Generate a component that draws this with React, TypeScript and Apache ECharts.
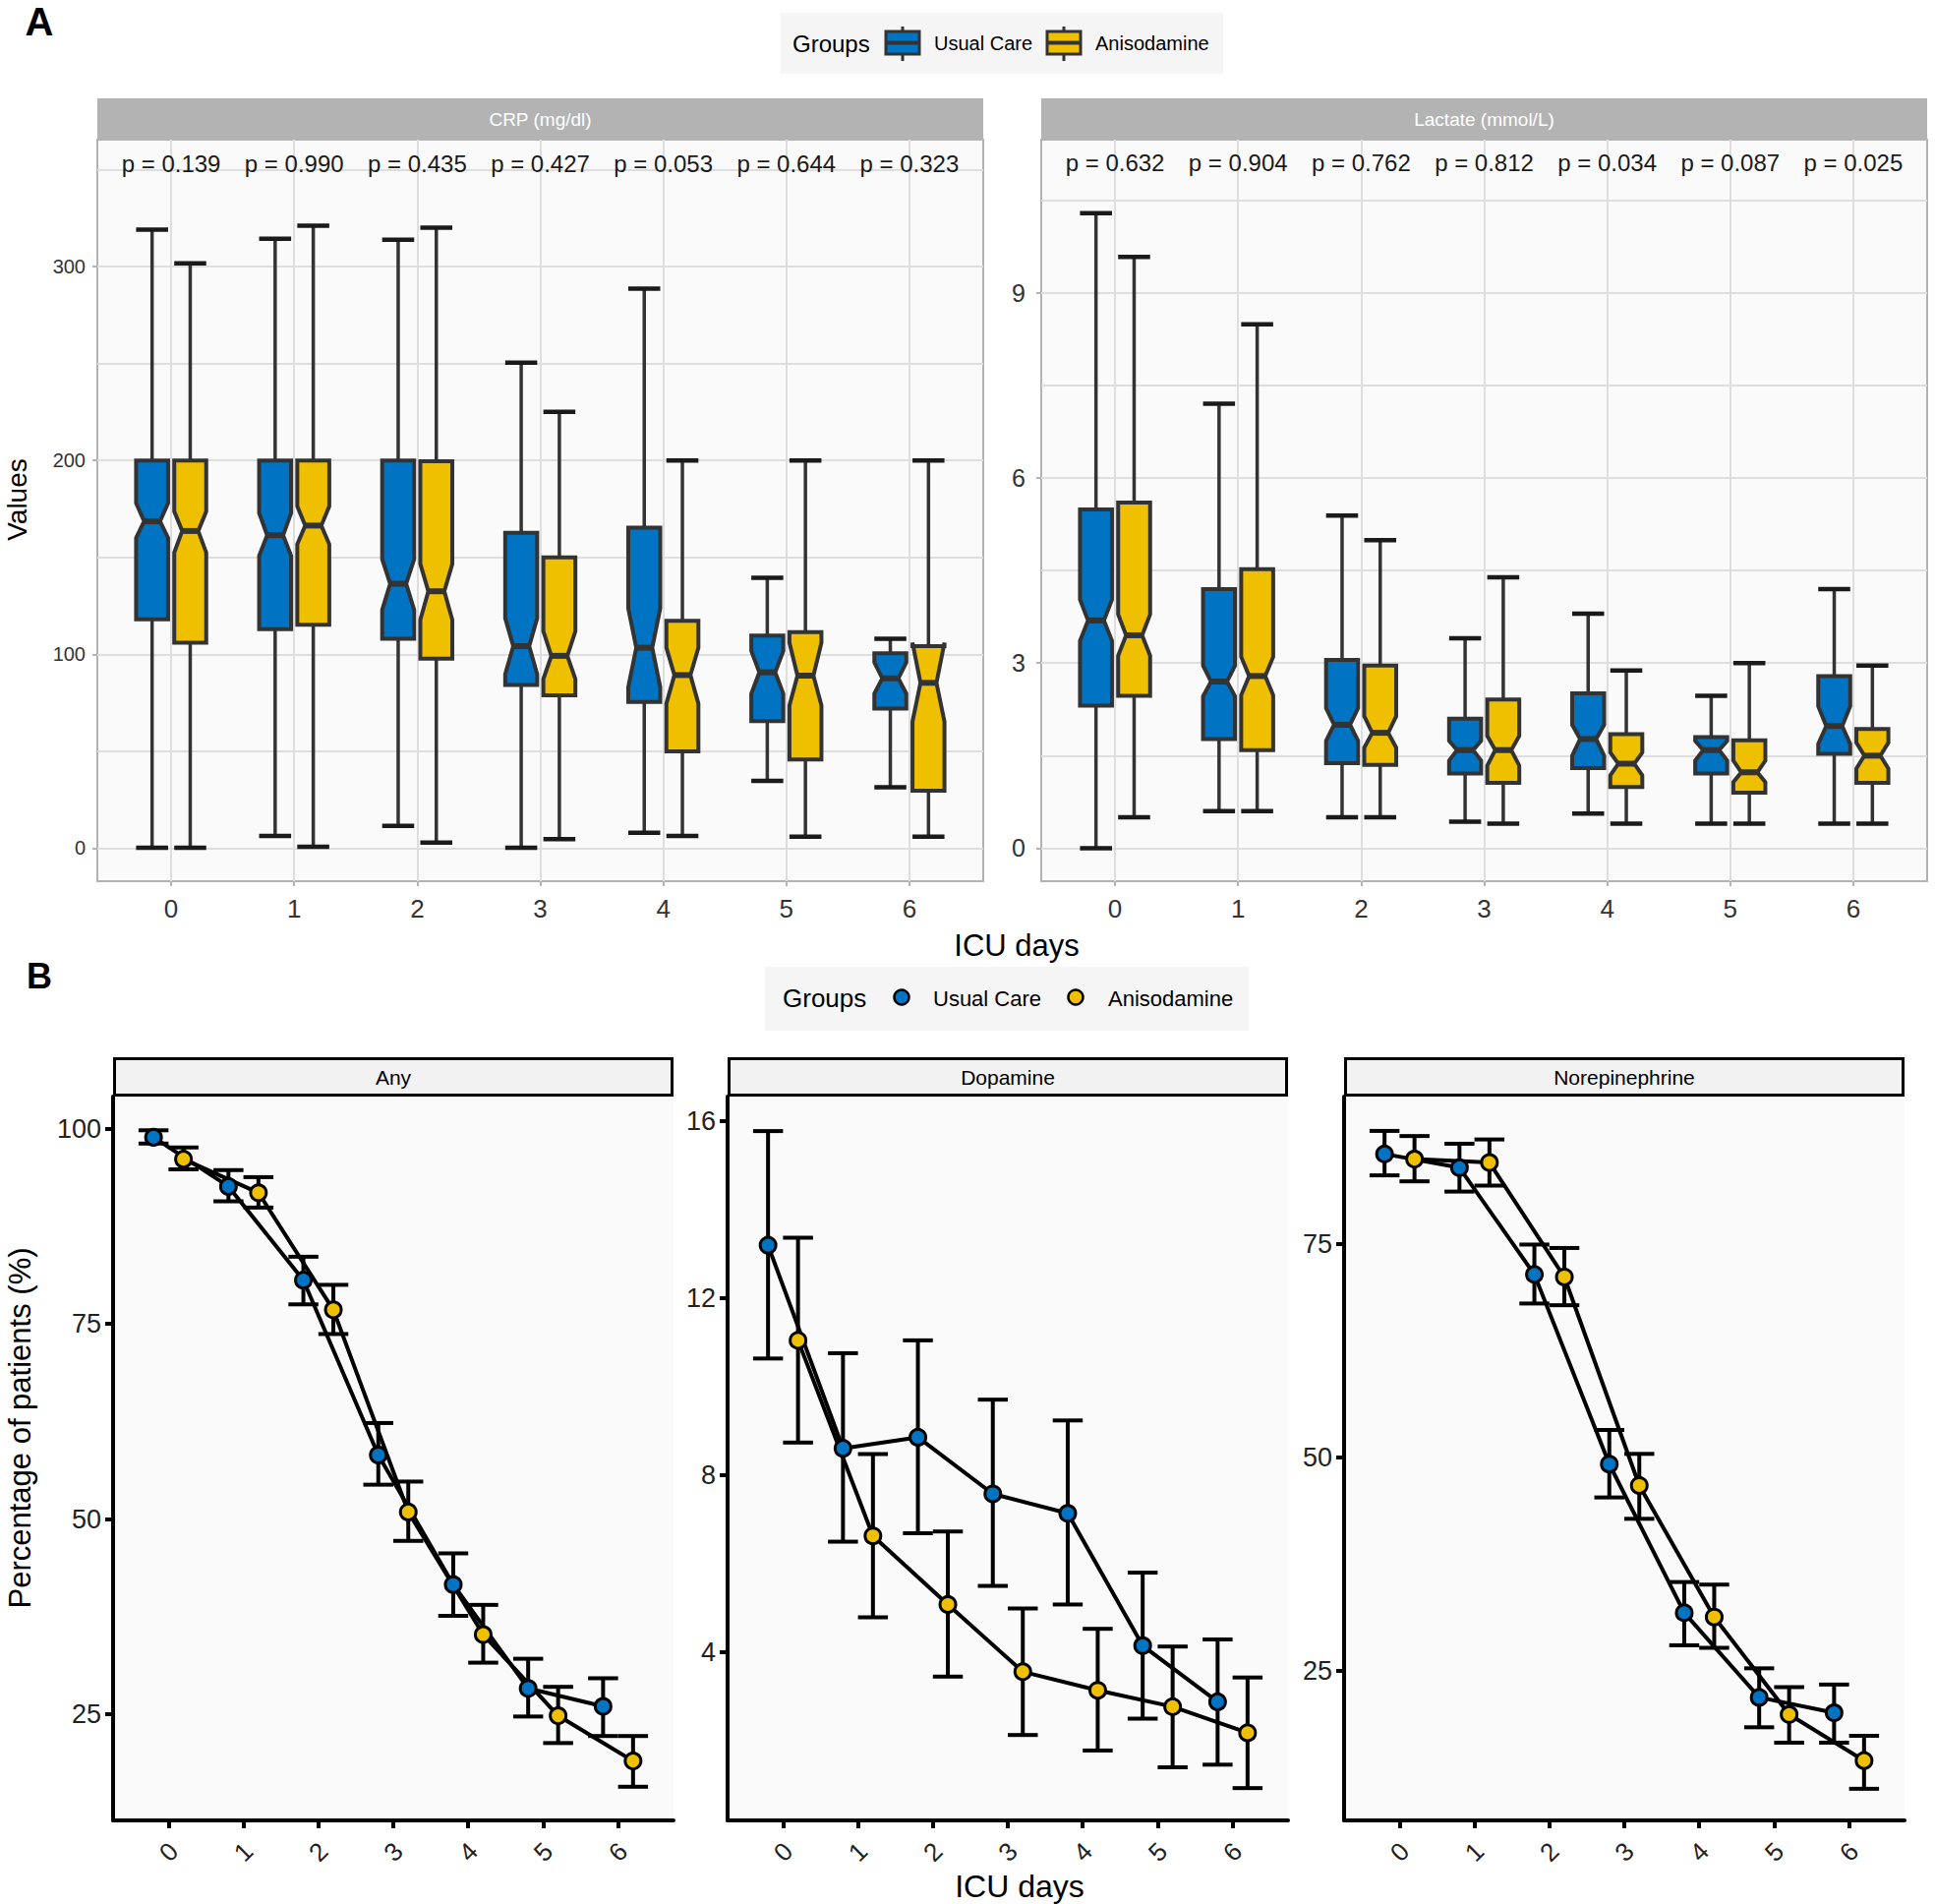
import React, { useEffect, useRef } from 'react';
import * as echarts from 'echarts';

const FONT = '"Liberation Sans", Arial, Helvetica, sans-serif';
const DAYS = [0, 1, 2, 3, 4, 5, 6];
const GROUPS = ['Usual Care', 'Anisodamine'];
const COLORS = ['#0073C2', '#EFC000'];

// ---- Panel A: CRP (mg/dl) notched boxplots ----
const crpUsualLow = [0.3, 6.3, 11.5, 0.3, 8, 34.7, 31.4];
const crpUsualQ1 = [118, 113, 108, 84.2, 75.4, 65.6, 72];
const crpUsualNotchLo = [160, 150.8, 122.9, 89.8, 83, 79.7, 79.7];
const crpUsualMedian = [168.6, 161.4, 136.4, 104.2, 103.4, 90.7, 87.6];
const crpUsualNotchHi = [178, 172.9, 149, 118.6, 123.7, 101.7, 95.8];
const crpUsualQ3 = [200, 200, 200, 162.7, 165.3, 109.7, 100.5];
const crpUsualHigh = [319, 314.3, 313.8, 250.4, 288.6, 139.5, 108];

const crpAnisoLow = [0.3, 0.8, 2.9, 4.7, 6.3, 5.9, 5.9];
const crpAnisoQ1 = [106, 115.3, 97.8, 78.8, 50, 45.8, 29.7];
const crpAnisoNotchLo = [152.5, 156.8, 117.8, 87.3, 74.6, 73.7, 65.3];
const crpAnisoMedian = [163.6, 166.4, 132.5, 99.2, 89.3, 89, 85.3];
const crpAnisoNotchHi = [173.7, 176.3, 146.6, 111.9, 103.4, 106, 106];
const crpAnisoQ3 = [200, 200, 199.5, 150, 117.3, 111.5, 104.2];
const crpAnisoHigh = [301.6, 321, 320, 225, 200, 200, 200];

const crpP = ['0.139', '0.990', '0.435', '0.427', '0.053', '0.644', '0.323'];

// ---- Panel A: Lactate (mmol/L) notched boxplots ----
const lacUsualLow = [0, 0.6, 0.5, 0.43, 0.56, 0.4, 0.4];
const lacUsualQ1 = [2.31, 1.77, 1.38, 1.21, 1.3, 1.21, 1.53];
const lacUsualNotchLo = [3.36, 2.46, 1.74, 1.42, 1.5, 1.42, 1.69];
const lacUsualMedian = [3.69, 2.7, 2.0, 1.59, 1.77, 1.59, 1.98];
const lacUsualNotchHi = [4.03, 2.96, 2.27, 1.74, 2.0, 1.74, 2.3];
const lacUsualQ3 = [5.49, 4.2, 3.05, 2.1, 2.51, 1.8, 2.79];
const lacUsualHigh = [10.29, 7.2, 5.39, 3.4, 3.8, 2.47, 4.2];

const lacAnisoLow = [0.5, 0.6, 0.5, 0.4, 0.4, 0.4, 0.4];
const lacAnisoQ1 = [2.47, 1.59, 1.35, 1.06, 0.99, 0.9, 1.06];
const lacAnisoNotchLo = [3.12, 2.48, 1.63, 1.34, 1.18, 1.07, 1.29];
const lacAnisoMedian = [3.45, 2.79, 1.87, 1.59, 1.37, 1.23, 1.5];
const lacAnisoNotchHi = [3.79, 3.1, 2.14, 1.82, 1.55, 1.42, 1.71];
const lacAnisoQ3 = [5.6, 4.52, 2.96, 2.41, 1.85, 1.75, 1.93];
const lacAnisoHigh = [9.58, 8.49, 4.99, 4.39, 2.88, 3.0, 2.96];

const lacP = ['0.632', '0.904', '0.762', '0.812', '0.034', '0.087', '0.025'];

// ---- Panel B: percentage of patients (%) with error bars ----
const anyUsual = [98.9, 92.6, 80.6, 58.2, 41.6, 28.3, 26.0];
const anyUsualLo = [98.1, 90.7, 77.5, 54.4, 37.6, 24.7, 22.2];
const anyUsualHi = [99.8, 94.7, 83.6, 62.3, 45.6, 32.1, 29.6];
const anyAniso = [96.1, 91.8, 76.8, 50.9, 35.2, 24.8, 19.0];
const anyAnisoLo = [94.8, 89.9, 73.7, 47.2, 31.6, 21.3, 15.7];
const anyAnisoHi = [97.6, 93.8, 80.0, 54.8, 39.0, 28.5, 22.2];

const dopaUsual = [13.2, 8.61, 8.86, 7.58, 7.14, 4.15, 2.88];
const dopaUsualLo = [10.64, 6.5, 6.69, 5.5, 5.08, 2.5, 1.46];
const dopaUsualHi = [15.78, 10.76, 11.05, 9.71, 9.24, 5.8, 4.29];
const dopaAniso = [11.05, 6.63, 5.08, 3.56, 3.14, 2.77, 2.18];
const dopaAnisoLo = [8.74, 4.79, 3.45, 2.13, 1.78, 1.4, 0.93];
const dopaAnisoHi = [13.37, 8.48, 6.73, 4.99, 4.53, 4.13, 3.43];

const norUsual = [85.5, 83.9, 71.4, 49.2, 31.8, 21.9, 20.1];
const norUsualLo = [83.0, 81.1, 68.0, 45.3, 28.0, 18.4, 16.6];
const norUsualHi = [88.2, 86.7, 74.9, 53.2, 35.4, 25.3, 23.4];
const norAniso = [84.9, 84.5, 71.1, 46.7, 31.3, 19.9, 14.5];
const norAnisoLo = [82.3, 81.8, 67.8, 42.8, 27.7, 16.6, 11.2];
const norAnisoHi = [87.6, 87.2, 74.5, 50.4, 35.1, 23.1, 17.4];

const crpTicks = [0, 100, 200, 300];
const crpGrid = [0, 50, 100, 150, 200, 250, 300, 350];
const lacTicks = [0, 3, 6, 9];
const lacGrid = [0, 1.5, 3, 4.5, 6, 7.5, 9, 10.5];
const anyTicks = [25, 50, 75, 100];
const dopaTicks = [4, 8, 12, 16];
const norTicks = [25, 50, 75];

// layout constants
const BOX_OFFSET = [-0.155, 0.155];
const BOX_W = 0.26;
const DODGE = [-0.2, 0.2];
const ERR_W = 0.4;

function boxRender(offset: number, color: string) {
  return (params: any, api: any) => {
    const x = api.value(0) + offset;
    const pt = (v: number) => api.coord([x, v]);
    const [xc, yLow] = pt(api.value(1));
    const yQ1 = pt(api.value(2))[1];
    const yNLo = pt(api.value(3))[1];
    const yMed = pt(api.value(4))[1];
    const yNHi = pt(api.value(5))[1];
    const yQ3 = pt(api.value(6))[1];
    const yHigh = pt(api.value(7))[1];
    const w = api.size([BOX_W, 0])[0];
    const hw = w / 2;
    const xl = xc - hw;
    const xr = xc + hw;
    const ind = w * 0.25;
    const wh = { stroke: '#333333', lineWidth: 3.5 };
    const cap = { stroke: '#1a1a1a', lineWidth: 4.5 };
    return {
      type: 'group',
      children: [
        { type: 'line', shape: { x1: xc, y1: yQ3, x2: xc, y2: yHigh }, style: wh },
        { type: 'line', shape: { x1: xc, y1: yQ1, x2: xc, y2: yLow }, style: wh },
        { type: 'line', shape: { x1: xl, y1: yHigh, x2: xr, y2: yHigh }, style: cap },
        { type: 'line', shape: { x1: xl, y1: yLow, x2: xr, y2: yLow }, style: cap },
        {
          type: 'polygon',
          shape: {
            points: [
              [xl, yQ1], [xl, yNLo], [xl + ind, yMed], [xl, yNHi], [xl, yQ3],
              [xr, yQ3], [xr, yNHi], [xr - ind, yMed], [xr, yNLo], [xr, yQ1],
            ],
          },
          style: { fill: color, stroke: '#333333', lineWidth: 4, lineJoin: 'miter' },
        },
        { type: 'line', shape: { x1: xl + ind, y1: yMed, x2: xr - ind, y2: yMed }, style: { stroke: '#333333', lineWidth: 6 } },
      ],
    };
  };
}

function errRender(offset: number) {
  return (params: any, api: any) => {
    const x = api.value(0) + offset;
    const [xc, yLo] = api.coord([x, api.value(1)]);
    const yHi = api.coord([x, api.value(2)])[1];
    const hw = api.size([ERR_W, 0])[0] / 2;
    const st = { stroke: '#000', lineWidth: 4 };
    return {
      type: 'group',
      children: [
        { type: 'line', shape: { x1: xc, y1: yLo, x2: xc, y2: yHi }, style: st },
        { type: 'line', shape: { x1: xc - hw, y1: yLo, x2: xc + hw, y2: yLo }, style: st },
        { type: 'line', shape: { x1: xc - hw, y1: yHi, x2: xc + hw, y2: yHi }, style: st },
      ],
    };
  };
}

function pRender(labels: string[], yPos: number) {
  return (params: any, api: any) => {
    const [x, y] = api.coord([api.value(0), yPos]);
    return {
      type: 'text',
      x, y,
      style: {
        text: 'p = ' + labels[params.dataIndex],
        font: `24px ${FONT}`,
        fill: '#1a1a1a',
        align: 'center', verticalAlign: 'middle',
        textAlign: 'center', textVerticalAlign: 'middle',
      },
    };
  };
}

function boxData(low: number[], q1: number[], nlo: number[], med: number[], nhi: number[], q3: number[], high: number[]) {
  return DAYS.map((d, i) => [d, low[i], q1[i], nlo[i], med[i], nhi[i], q3[i], high[i]]);
}

function txt(text: string, x: number, y: number, size: number, opts: any = {}) {
  return {
    type: 'text',
    x, y,
    rotation: opts.rotation || 0,
    z: 10,
    style: {
      text,
      font: `${opts.weight || 'normal'} ${size}px ${FONT}`,
      fill: opts.fill || '#000',
      align: opts.align || 'center', verticalAlign: 'middle',
      textAlign: opts.align || 'center', textVerticalAlign: 'middle',
    },
  };
}

export default function App() {
  const ref = useRef<HTMLDivElement>(null);
  useEffect(() => {
    if (!ref.current) return;
    const chart = echarts.init(ref.current, undefined, { renderer: 'svg' });

    const topGrid = (left: number) => ({
      left, top: 142, width: 901, height: 754, show: true,
      backgroundColor: '#FAFAFA', borderColor: '#B3B3B3', borderWidth: 2, containLabel: false,
      outerBoundsMode: 'none',
    });
    const botGrid = (left: number) => ({
      left, top: 1115, width: 570, height: 736, show: true,
      backgroundColor: '#FAFAFA', borderWidth: 0, containLabel: false,
      outerBoundsMode: 'none',
    });

    const topX = (g: number) => ({
      type: 'value', gridIndex: g, min: -0.6, max: 6.6, position: 'bottom',
      axisLine: { show: false, onZero: false },
      axisTick: { show: true, customValues: DAYS, length: 5, lineStyle: { color: '#B3B3B3', width: 2 } },
      axisLabel: { customValues: DAYS, fontSize: 26, color: '#333', margin: 15, fontFamily: FONT },
      splitLine: { show: true, lineStyle: { color: '#DEDEDE', width: 2 } },
    });
    const topYGrid = (g: number, min: number, max: number, vals: number[]) => ({
      type: 'value', gridIndex: g, min, max, position: 'left',
      axisLine: { show: false, onZero: false },
      axisTick: { show: false, customValues: vals },
      axisLabel: { show: false },
      splitLine: { show: true, lineStyle: { color: '#DEDEDE', width: 2 } },
    });
    const topYLab = (g: number, min: number, max: number, vals: number[], size: number, margin: number) => ({
      type: 'value', gridIndex: g, min, max, position: 'left', offset: 0,
      axisLine: { show: false, onZero: false },
      axisTick: { show: true, customValues: vals, length: 5, lineStyle: { color: '#B3B3B3', width: 2 } },
      axisLabel: { customValues: vals, fontSize: size, color: '#333', margin, fontFamily: FONT },
      splitLine: { show: false },
    });
    const botX = (g: number) => ({
      type: 'value', gridIndex: g, min: -0.74, max: 6.74, position: 'bottom',
      axisLine: { show: true, onZero: false, lineStyle: { color: '#000', width: 4 } },
      axisTick: { show: true, customValues: DAYS, length: 8, lineStyle: { color: '#000', width: 4 } },
      axisLabel: {
        customValues: DAYS, rotate: 45, fontSize: 26, color: '#222', margin: 32,
        align: 'center', verticalAlign: 'middle', fontFamily: FONT,
      },
      splitLine: { show: false },
    });
    const botY = (g: number, min: number, max: number, vals: number[]) => ({
      type: 'value', gridIndex: g, min, max, position: 'left',
      axisLine: { show: true, onZero: false, lineStyle: { color: '#000', width: 4 } },
      axisTick: { show: true, customValues: vals, length: 8, lineStyle: { color: '#000', width: 4 } },
      axisLabel: { customValues: vals, fontSize: 27, color: '#222', margin: 12, fontFamily: FONT },
      splitLine: { show: false },
    });

    const series: any[] = [];
    // Box plots
    const boxSets = [
      { xi: 0, yi: 1, data: [
        boxData(crpUsualLow, crpUsualQ1, crpUsualNotchLo, crpUsualMedian, crpUsualNotchHi, crpUsualQ3, crpUsualHigh),
        boxData(crpAnisoLow, crpAnisoQ1, crpAnisoNotchLo, crpAnisoMedian, crpAnisoNotchHi, crpAnisoQ3, crpAnisoHigh),
      ] },
      { xi: 1, yi: 3, data: [
        boxData(lacUsualLow, lacUsualQ1, lacUsualNotchLo, lacUsualMedian, lacUsualNotchHi, lacUsualQ3, lacUsualHigh),
        boxData(lacAnisoLow, lacAnisoQ1, lacAnisoNotchLo, lacAnisoMedian, lacAnisoNotchHi, lacAnisoQ3, lacAnisoHigh),
      ] },
    ];
    boxSets.forEach((s) => {
      s.data.forEach((d, g) => {
        series.push({
          type: 'custom', name: GROUPS[g], xAxisIndex: s.xi, yAxisIndex: s.yi,
          data: d, encode: { x: 0, y: [1, 2, 3, 4, 5, 6, 7] },
          renderItem: boxRender(BOX_OFFSET[g], COLORS[g]), silent: true, z: 3,
        });
      });
    });
    // p-values
    series.push({
      type: 'custom', xAxisIndex: 0, yAxisIndex: 1, data: DAYS.map((d) => [d]),
      encode: { x: 0 }, renderItem: pRender(crpP, 353.2), silent: true, z: 4,
    });
    series.push({
      type: 'custom', xAxisIndex: 1, yAxisIndex: 3, data: DAYS.map((d) => [d]),
      encode: { x: 0 }, renderItem: pRender(lacP, 11.1), silent: true, z: 4,
    });

    // Panel B
    const bSets = [
      { xi: 2, yi: 4, vals: [anyUsual, anyAniso], lo: [anyUsualLo, anyAnisoLo], hi: [anyUsualHi, anyAnisoHi] },
      { xi: 3, yi: 5, vals: [dopaUsual, dopaAniso], lo: [dopaUsualLo, dopaAnisoLo], hi: [dopaUsualHi, dopaAnisoHi] },
      { xi: 4, yi: 6, vals: [norUsual, norAniso], lo: [norUsualLo, norAnisoLo], hi: [norUsualHi, norAnisoHi] },
    ];
    bSets.forEach((s) => {
      [0, 1].forEach((g) => {
        series.push({
          type: 'custom', name: GROUPS[g], xAxisIndex: s.xi, yAxisIndex: s.yi,
          data: DAYS.map((d, i) => [d, s.lo[g][i], s.hi[g][i]]),
          encode: { x: 0, y: [1, 2] },
          renderItem: errRender(DODGE[g]), silent: true, z: 2,
        });
      });
      [0, 1].forEach((g) => {
        series.push({
          type: 'line', name: GROUPS[g], xAxisIndex: s.xi, yAxisIndex: s.yi,
          data: DAYS.map((d, i) => [d + DODGE[g], s.vals[g][i]]),
          symbol: 'circle', symbolSize: 16, showSymbol: true,
          lineStyle: { color: '#000', width: 4 },
          itemStyle: { color: COLORS[g], borderColor: '#000', borderWidth: 3 },
          silent: true, z: 3,
        });
      });
    });

    const graphic: any[] = [
      txt('A', 40, 22, 40, { weight: 'bold' }),
      txt('B', 40, 992, 36, { weight: 'bold' }),
      // Legend A
      { type: 'rect', shape: { x: 794, y: 13, width: 450, height: 62 }, style: { fill: '#F5F5F5' }, z: 5 },
      txt('Groups', 806, 44, 24, { align: 'left' }),
      { type: 'line', shape: { x1: 918, y1: 27, x2: 918, y2: 62 }, style: { stroke: '#333', lineWidth: 3 }, z: 6 },
      { type: 'rect', shape: { x: 901, y: 32, width: 34, height: 23 }, style: { fill: COLORS[0], stroke: '#333', lineWidth: 3 }, z: 7 },
      { type: 'line', shape: { x1: 901, y1: 43.5, x2: 935, y2: 43.5 }, style: { stroke: '#333', lineWidth: 4 }, z: 8 },
      txt('Usual Care', 950, 44, 20, { align: 'left' }),
      { type: 'line', shape: { x1: 1082, y1: 27, x2: 1082, y2: 62 }, style: { stroke: '#333', lineWidth: 3 }, z: 6 },
      { type: 'rect', shape: { x: 1065, y: 32, width: 34, height: 23 }, style: { fill: COLORS[1], stroke: '#333', lineWidth: 3 }, z: 7 },
      { type: 'line', shape: { x1: 1065, y1: 43.5, x2: 1099, y2: 43.5 }, style: { stroke: '#333', lineWidth: 4 }, z: 8 },
      txt('Anisodamine', 1114, 44, 20, { align: 'left' }),
      // Strips A
      { type: 'rect', shape: { x: 99, y: 100, width: 901, height: 42 }, style: { fill: '#B3B3B3' }, z: 5 },
      txt('CRP (mg/dl)', 549.5, 121, 19, { fill: '#FFFFFF' }),
      { type: 'rect', shape: { x: 1059, y: 100, width: 901, height: 42 }, style: { fill: '#B3B3B3' }, z: 5 },
      txt('Lactate (mmol/L)', 1509.5, 121, 19, { fill: '#FFFFFF' }),
      // Axis titles A
      txt('Values', 17, 508, 28, { rotation: Math.PI / 2 }),
      txt('ICU days', 1034, 961, 31),
      // Legend B
      { type: 'rect', shape: { x: 778, y: 983, width: 492, height: 65 }, style: { fill: '#F5F5F5' }, z: 5 },
      txt('Groups', 796, 1015, 26, { align: 'left' }),
      { type: 'circle', shape: { cx: 917, cy: 1014, r: 7.5 }, style: { fill: COLORS[0], stroke: '#000', lineWidth: 2.5 }, z: 7 },
      txt('Usual Care', 949, 1015, 22, { align: 'left' }),
      { type: 'circle', shape: { cx: 1094, cy: 1014, r: 7.5 }, style: { fill: COLORS[1], stroke: '#000', lineWidth: 2.5 }, z: 7 },
      txt('Anisodamine', 1127, 1015, 22, { align: 'left' }),
      // Strips B
      { type: 'rect', shape: { x: 116.5, y: 1076.5, width: 567, height: 37 }, style: { fill: '#F2F2F2', stroke: '#000', lineWidth: 3 }, z: 5 },
      txt('Any', 400, 1095, 21),
      { type: 'rect', shape: { x: 741.5, y: 1076.5, width: 567, height: 37 }, style: { fill: '#F2F2F2', stroke: '#000', lineWidth: 3 }, z: 5 },
      txt('Dopamine', 1025, 1095, 21),
      { type: 'rect', shape: { x: 1368.5, y: 1076.5, width: 567, height: 37 }, style: { fill: '#F2F2F2', stroke: '#000', lineWidth: 3 }, z: 5 },
      txt('Norepinephrine', 1652, 1095, 21),
      // Axis titles B
      txt('Percentage of patients (%)', 20, 1452, 31, { rotation: Math.PI / 2 }),
      txt('ICU days', 1037, 1918, 32),
    ];

    chart.setOption({
      animation: false,
      backgroundColor: '#FFFFFF',
      textStyle: { fontFamily: FONT },
      grid: [topGrid(99), topGrid(1059), botGrid(115), botGrid(740), botGrid(1367)],
      xAxis: [topX(0), topX(1), botX(2), botX(3), botX(4)],
      yAxis: [
        topYGrid(0, -17, 365.4, crpGrid),
        topYLab(0, -17, 365.4, crpTicks, 20, 12),
        topYGrid(1, -0.534, 11.48, lacGrid),
        topYLab(1, -0.534, 11.48, lacTicks, 25, 16),
        botY(2, 11.39, 104.12, anyTicks),
        botY(3, 0.2, 16.56, dopaTicks),
        botY(4, 7.5, 92.22, norTicks),
      ],
      series,
      graphic,
    });
    return () => chart.dispose();
  }, []);
  return <div ref={ref} style={{ position: 'absolute', left: 0, top: 0, width: 1968, height: 1936 }} />;
}
